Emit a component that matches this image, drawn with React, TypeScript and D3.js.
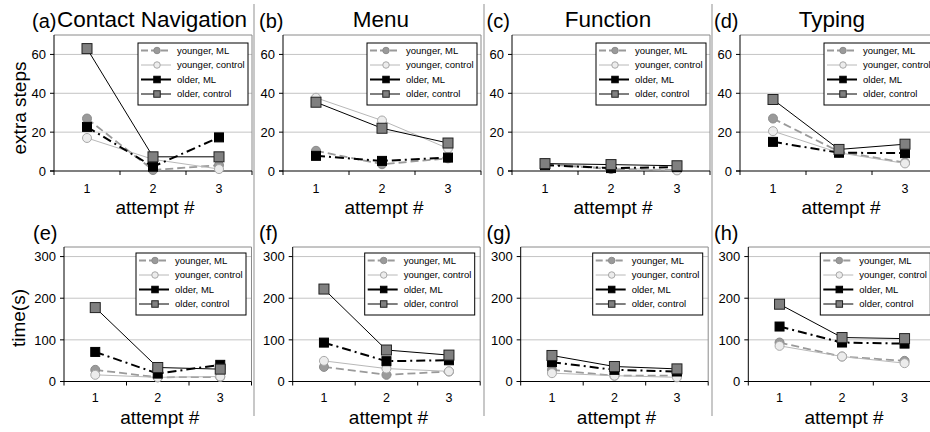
import React from "react";
import * as d3 from "d3";

const attempts = ["1", "2", "3"];
const seriesNames = ["younger, ML", "younger, control", "older, ML", "older, control"];
const panelTitles = ["Contact Navigation", "Menu", "Function", "Typing"];
const topLabels = ["(a)", "(b)", "(c)", "(d)"];
const bottomLabels = ["(e)", "(f)", "(g)", "(h)"];
const stepsTicks = [0, 20, 40, 60];
const timeTicks = [0, 100, 200, 300];

// extra steps: [panel][attempt]
const stepsYoungerML = [[27, 0.5, 3], [10.4, 3.5, 6.5], [3.5, 1, 0.5], [27, 10, 4.3]];
const stepsYoungerControl = [[17, 6, 1], [37.7, 26, 11.6], [4, 1.5, 0.3], [20.5, 9.4, 3.9]];
const stepsOlderML = [[22.7, 2.2, 17.3], [7.8, 5.2, 6.9], [3, 1.5, 2], [15, 9.4, 9.2]];
const stepsOlderControl = [[63, 7.3, 7.3], [35.4, 22, 14.4], [3.8, 3.3, 2.7], [36.8, 11.1, 13.8]];

// time(s): [panel][attempt]
const timeYoungerML = [[28, 10, 11], [35, 16, 24], [28, 14, 14], [93.6, 60, 49.6]];
const timeYoungerControl = [[16, 10, 12], [49.5, 31, 24.4], [20, 14, 10], [85.6, 60, 44]];
const timeOlderML = [[71, 19, 40], [93.4, 48.8, 51], [46.4, 28, 24], [132, 93.6, 91]];
const timeOlderControl = [[177.5, 33.6, 29.7], [222, 75.6, 63.4], [62.5, 36, 30.3], [185.6, 105.6, 103]];

const FONT = "'Liberation Sans', Arial, Helvetica, sans-serif";

type SStyle = {
  stroke: string;
  width: number;
  dash: string | null;
  marker: "circle" | "square";
  fill: string;
  mstroke: string;
  size: number;
};

const seriesStyles: SStyle[] = [
  { stroke: "#9a9a9a", width: 1.8, dash: "8,4", marker: "circle", fill: "#9a9a9a", mstroke: "#8c8c8c", size: 9 },
  { stroke: "#b8b8b8", width: 1, dash: null, marker: "circle", fill: "#ececec", mstroke: "#a8a8a8", size: 9 },
  { stroke: "#000000", width: 2, dash: "9,4,2,4", marker: "square", fill: "#000000", mstroke: "#000000", size: 9 },
  { stroke: "#000000", width: 1, dash: null, marker: "square", fill: "#808080", mstroke: "#222222", size: 10 },
];

function Marker({ s, cx, cy, size }: { s: SStyle; cx: number; cy: number; size: number }) {
  if (s.marker === "circle") {
    return <circle cx={cx} cy={cy} r={size / 2} fill={s.fill} stroke={s.mstroke} strokeWidth={1} />;
  }
  return (
    <rect x={cx - size / 2} y={cy - size / 2} width={size} height={size} fill={s.fill} stroke={s.mstroke} strokeWidth={1} />
  );
}

type PanelProps = {
  left: number;
  width: number;
  yTop: number;
  yBottom: number;
  yMax: number;
  ticks: number[];
  series: number[][];
  label: string;
  labelX: number;
  labelY: number;
  title?: string;
  titleX?: number;
  titleY?: number;
  tickLabelY: number;
  xLabelY: number;
  legendX: number;
  legendY: number;
};

function Panel(p: PanelProps) {
  const x = d3.scaleBand<string>().domain(attempts).range([p.left, p.left + p.width]);
  const y = d3.scaleLinear().domain([0, p.yMax]).range([p.yBottom, p.yTop]);
  const cx = (i: number) => (x(attempts[i]) as number) + x.bandwidth() / 2;
  const line = d3
    .line<number>()
    .x((_, i) => cx(i))
    .y((d) => y(d));
  const right = p.left + p.width;
  const bounds = attempts.map((a) => x(a) as number).concat([right]);

  return (
    <g>
      {p.ticks.filter((t) => t > 0).map((t) => (
        <line key={"g" + t} x1={p.left} x2={right} y1={y(t)} y2={y(t)} stroke="#c4c4c4" strokeWidth={1} />
      ))}
      <line x1={p.left} x2={right} y1={p.yTop} y2={p.yTop} stroke="#8a8a8a" strokeWidth={1} />
      <line x1={right} x2={right} y1={p.yTop} y2={p.yBottom} stroke="#8a8a8a" strokeWidth={1} />
      <line x1={p.left} x2={p.left} y1={p.yTop} y2={p.yBottom} stroke="#000" strokeWidth={1} />
      <line x1={p.left - 4} x2={right} y1={p.yBottom} y2={p.yBottom} stroke="#000" strokeWidth={1.2} />
      {p.ticks.map((t) => (
        <g key={"t" + t}>
          <line x1={p.left - 4} x2={p.left} y1={y(t)} y2={y(t)} stroke="#000" />
          <text x={p.left - 8} y={y(t)} dy="0.36em" textAnchor="end" fontSize={13} fontFamily={FONT} fill="#000">
            {t}
          </text>
        </g>
      ))}
      {bounds.map((b, i) => (
        <line key={"xb" + i} x1={b} x2={b} y1={p.yBottom} y2={p.yBottom + 4} stroke="#000" />
      ))}
      {attempts.map((a, i) => (
        <text key={"xl" + a} x={cx(i)} y={p.tickLabelY} textAnchor="middle" fontSize={12.5} fontFamily={FONT} fill="#000">
          {a}
        </text>
      ))}
      <text x={p.left + p.width / 2 + 2} y={p.xLabelY} textAnchor="middle" fontSize={19} fontFamily={FONT} fill="#000">
        attempt #
      </text>
      {p.series.map((vals, si) => {
        const s = seriesStyles[si];
        return (
          <g key={"s" + si}>
            <path
              d={line(vals) || ""}
              fill="none"
              stroke={s.stroke}
              strokeWidth={s.width}
              strokeDasharray={s.dash || undefined}
            />
            {vals.map((v, i) => (
              <Marker key={i} s={s} cx={cx(i)} cy={y(v)} size={s.size} />
            ))}
          </g>
        );
      })}
      <rect x={p.legendX} y={p.legendY} width={110} height={62} fill="#fff" stroke="#000" strokeWidth={1} />
      {seriesNames.map((n, i) => {
        const s = seriesStyles[i];
        const ry = p.legendY + 7.5 + i * 14.5;
        return (
          <g key={"l" + i}>
            <line
              x1={p.legendX + 3}
              x2={p.legendX + 33}
              y1={ry}
              y2={ry}
              stroke={s.stroke}
              strokeWidth={s.width}
              strokeDasharray={s.dash ? (i === 2 ? "14,4" : "7,3") : undefined}
            />
            <Marker s={s} cx={p.legendX + 19} cy={ry} size={6.5} />
            <text x={p.legendX + 39} y={ry} dy="0.35em" fontSize={9.5} fontFamily={FONT} fill="#000">
              {n}
            </text>
          </g>
        );
      })}
      <text x={p.labelX} y={p.labelY} fontSize={20} fontFamily={FONT} fill="#000">
        {p.label}
      </text>
      {p.title ? (
        <text x={p.titleX} y={p.titleY} textAnchor="middle" fontSize={22.5} fontFamily={FONT} fill="#000">
          {p.title}
        </text>
      ) : null}
    </g>
  );
}

const topLefts = [54, 283, 512, 740];
const bottomLefts = [64, 292.7, 520.7, 748.3];
const labelXs = [32, 259, 486.5, 714];
const titleXs = [152, 381, 608, 832];
const separators = [254, 484, 712];

export default function App() {
  return (
    <div style={{ position: "absolute", left: 0, top: 0 }}>
      <svg width={930} height={432} style={{ display: "block", background: "#fff" }}>
        <rect x={0} y={0} width={930} height={432} fill="#fff" />
        {topLefts.map((l, k) => (
          <Panel
            key={"top" + k}
            left={l}
            width={198}
            yTop={35}
            yBottom={171}
            yMax={70}
            ticks={stepsTicks}
            series={[stepsYoungerML[k], stepsYoungerControl[k], stepsOlderML[k], stepsOlderControl[k]]}
            label={topLabels[k]}
            labelX={labelXs[k]}
            labelY={28}
            title={panelTitles[k]}
            titleX={titleXs[k]}
            titleY={27}
            tickLabelY={193}
            xLabelY={214}
            legendX={l + 84}
            legendY={43}
          />
        ))}
        {bottomLefts.map((l, k) => (
          <Panel
            key={"bot" + k}
            left={l}
            width={187.5}
            yTop={247}
            yBottom={381.5}
            yMax={323}
            ticks={timeTicks}
            series={[timeYoungerML[k], timeYoungerControl[k], timeOlderML[k], timeOlderControl[k]]}
            label={bottomLabels[k]}
            labelX={labelXs[k] + (k === 0 ? 1 : 0)}
            labelY={240}
            tickLabelY={402}
            xLabelY={424}
            legendX={l + 72}
            legendY={253}
          />
        ))}
        {separators.map((sx) => (
          <line key={"sep" + sx} x1={sx} x2={sx} y1={4} y2={416} stroke="#c8c8c8" strokeWidth={2} />
        ))}
        <text
          transform="translate(19,108) rotate(-90)"
          textAnchor="middle"
          dy="0.35em"
          fontSize={19}
          fontFamily={FONT}
          fill="#000"
        >
          extra steps
        </text>
        <text
          transform="translate(18,318) rotate(-90)"
          textAnchor="middle"
          dy="0.35em"
          fontSize={19}
          fontFamily={FONT}
          fill="#000"
        >
          time(s)
        </text>
      </svg>
    </div>
  );
}
